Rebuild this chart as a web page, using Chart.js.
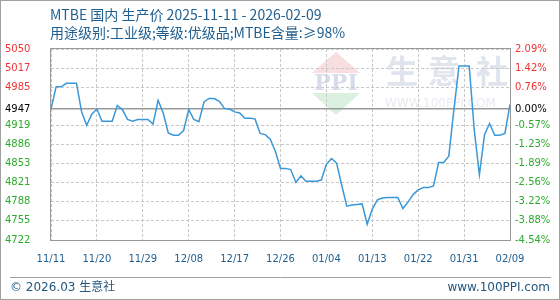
<!DOCTYPE html>
<html><head><meta charset="utf-8">
<script src="https://cdn.jsdelivr.net/npm/chart.js@4"></script>
<style>html,body{margin:0;padding:0;background:#fff}#wrap{width:560px;height:300px;position:relative}</style>
</head><body><div id="wrap"><canvas id="c" width="560" height="300"></canvas></div>
<script>
const titleText = 'MTBE 国内 生产价 2025-11-11 - 2026-02-09';
const subtitleText = '用途级别:工业级;等级:优级品;MTBE含量:≥98%';
const footerLeft = '© 2026.03 生意社';
const footerRight = 'www.100PPI.com';
const xTickDays = [0, 9, 18, 27, 36, 45, 54, 63, 72, 81, 90];
const xTickLabels = ['11/11','11/20','11/29','12/08','12/17','12/26','01/04','01/13','01/22','01/31','02/09'];
const yTickValues = [4722, 4754.8, 4787.6, 4820.4, 4853.2, 4886, 4918.8, 4947, 4984.4, 5017.2, 5050];
const yTickLabels = ['4722','4755','4788','4821','4853','4886','4919','4947','4985','5017','5050'];
const pctTickLabels = ['-4.54%','-3.88%','-3.22%','-2.56%','-1.89%','-1.23%','-0.57%','0.00%','0.76%','1.42%','2.09%'];
const baseValue = 4947;
const prices = [
  4947, 4985, 4985, 4991, 4991, 4991, 4942, 4919, 4938, 4947,
  4926, 4926, 4926, 4953, 4946, 4929, 4926, 4929, 4929, 4929,
  4921, 4962, 4940, 4906, 4902, 4902, 4910, 4946, 4929, 4925,
  4959, 4965, 4965, 4960, 4948, 4947, 4942, 4940, 4931, 4931,
  4930, 4905, 4903, 4895, 4874, 4845, 4845, 4843, 4821, 4832,
  4823, 4823, 4823, 4825, 4852, 4862, 4854, 4816, 4780, 4782,
  4783, 4784, 4749, 4775, 4791, 4794, 4795, 4795, 4795, 4776,
  4787, 4800, 4808, 4812, 4812, 4815, 4855, 4855, 4866, 4946,
  5021, 5021, 5021, 4910, 4834, 4903, 4922, 4902, 4902, 4905,
  4955
];

const RED = '#ee3333', GREEN = '#2eaa2e', BLACK = '#000000', BLUE = '#1f5f8f';
const tickColor = c => {
  const v = c.tick ? c.tick.value : 0;
  return v > baseValue + 0.01 ? RED : (Math.abs(v - baseValue) < 0.01 ? BLACK : GREEN);
};

const decor = {
  id: 'decor',
  beforeDraw(chart) {
    const ctx = chart.ctx;
    ctx.save();
    ctx.fillStyle = '#ffffff';
    ctx.fillRect(0, 0, 560, 300);
    // watermark logo
    ctx.fillStyle = '#f8dede';
    ctx.beginPath(); ctx.moveTo(336, 52); ctx.lineTo(360, 73); ctx.lineTo(312, 73); ctx.closePath(); ctx.fill();
    ctx.fillStyle = '#dcf0df';
    ctx.beginPath(); ctx.moveTo(312, 93); ctx.lineTo(360, 93); ctx.lineTo(336, 115); ctx.closePath(); ctx.fill();
    ctx.fillStyle = '#d6dcea';
    ctx.font = 'bold 22px "DejaVu Serif"';
    ctx.textAlign = 'center'; ctx.textBaseline = 'middle';
    ctx.fillText('PPI', 336, 84, 48);
    ctx.fillStyle = '#e0e4ed';
    ctx.font = 'bold 32px "Noto Sans CJK SC"';
    ctx.fillText('生', 402, 71); ctx.fillText('意', 444, 71); ctx.fillText('社', 492, 71);
    ctx.fillStyle = '#e8eaef';
    ctx.font = '12px "DejaVu Sans"';
    ctx.textAlign = 'left';
    ctx.fillText('WWW.100PPI.COM', 385, 104, 122);
    ctx.restore();
  },
  afterDraw(chart) {
    const ctx = chart.ctx, a = chart.chartArea;
    ctx.save();
    // plot frame
    ctx.strokeStyle = '#999999'; ctx.lineWidth = 1;
    ctx.strokeRect(Math.round(a.left) - 0.5, Math.round(a.top) - 0.5, Math.round(a.right - a.left) + 1, Math.round(a.bottom - a.top) + 1);
    // outer frame
    ctx.strokeStyle = '#a0a0a0';
    ctx.strokeRect(0.5, 0.5, 559, 299);
    // footer line
    ctx.beginPath(); ctx.moveTo(10, 277.5); ctx.lineTo(551, 277.5); ctx.stroke();
    // titles
    ctx.fillStyle = BLUE; ctx.textBaseline = 'middle'; ctx.textAlign = 'left';
    ctx.font = '14px "Noto Sans CJK SC"';
    ctx.fillText(titleText, 50, 15);
    ctx.fillText(subtitleText, 50, 33);
    // footer
    ctx.fillStyle = '#24587f';
    ctx.font = '12px "DejaVu Sans", "Noto Sans CJK SC"';
    ctx.fillText(footerLeft, 10, 288);
    ctx.textAlign = 'right';
    ctx.fillText(footerRight, 550, 288);
    ctx.restore();
  }
};

new Chart(document.getElementById('c'), {
  type: 'line',
  data: {
    datasets: [{
      data: prices.map((v, i) => ({ x: i, y: v })),
      borderColor: '#3a98d8',
      borderWidth: 1.5,
      pointRadius: 0,
      tension: 0,
      fill: false
    }]
  },
  options: {
    responsive: false,
    animation: false,
    events: [],
    layout: { padding: { left: 5, top: 49, right: 0, bottom: 0 } },
    plugins: { legend: { display: false }, tooltip: { enabled: false }, title: { display: false } },
    scales: {
      x: {
        type: 'linear', min: 0, max: 90,
        afterBuildTicks: s => { s.ticks = xTickDays.map(v => ({ value: v })); },
        afterFit: s => { s.height = 60; },
        ticks: {
          autoSkip: false, maxRotation: 0, padding: 13, color: BLUE,
          font: { family: 'DejaVu Sans', size: 10 },
          callback: (v, i) => xTickLabels[i]
        },
        grid: { color: '#c8c8c8', lineWidth: 1, drawTicks: false },
        border: { display: false, dash: [3, 2] }
      },
      y: {
        type: 'linear', position: 'left', min: 4722, max: 5050,
        afterBuildTicks: s => { s.ticks = yTickValues.map(v => ({ value: v })); },
        afterFit: s => { s.width = 46; },
        ticks: {
          autoSkip: false, crossAlign: 'far', padding: 0,
          color: tickColor,
          font: { family: 'DejaVu Sans', size: 10 },
          callback: (v, i) => yTickLabels[i]
        },
        grid: {
          drawTicks: false,
          color: c => (c.tick && Math.abs(c.tick.value - baseValue) < 0.01) ? '#9a9a9a' : '#c8c8c8',
          lineWidth: c => (c.tick && Math.abs(c.tick.value - baseValue) < 0.01) ? 1.6 : 1
        },
        border: {
          display: false,
          dash: c => (c.tick && Math.abs(c.tick.value - baseValue) < 0.01) ? [] : [3, 2]
        }
      },
      y2: {
        type: 'linear', position: 'right', min: 4722, max: 5050,
        afterBuildTicks: s => { s.ticks = yTickValues.map(v => ({ value: v })); },
        afterFit: s => { s.width = 50; },
        ticks: {
          autoSkip: false, crossAlign: 'near', padding: 5,
          color: tickColor,
          font: { family: 'DejaVu Sans', size: 10 },
          callback: (v, i) => pctTickLabels[i]
        },
        grid: { display: false, drawTicks: false },
        border: { display: false }
      }
    }
  },
  plugins: [decor]
});
</script>
</body></html>
